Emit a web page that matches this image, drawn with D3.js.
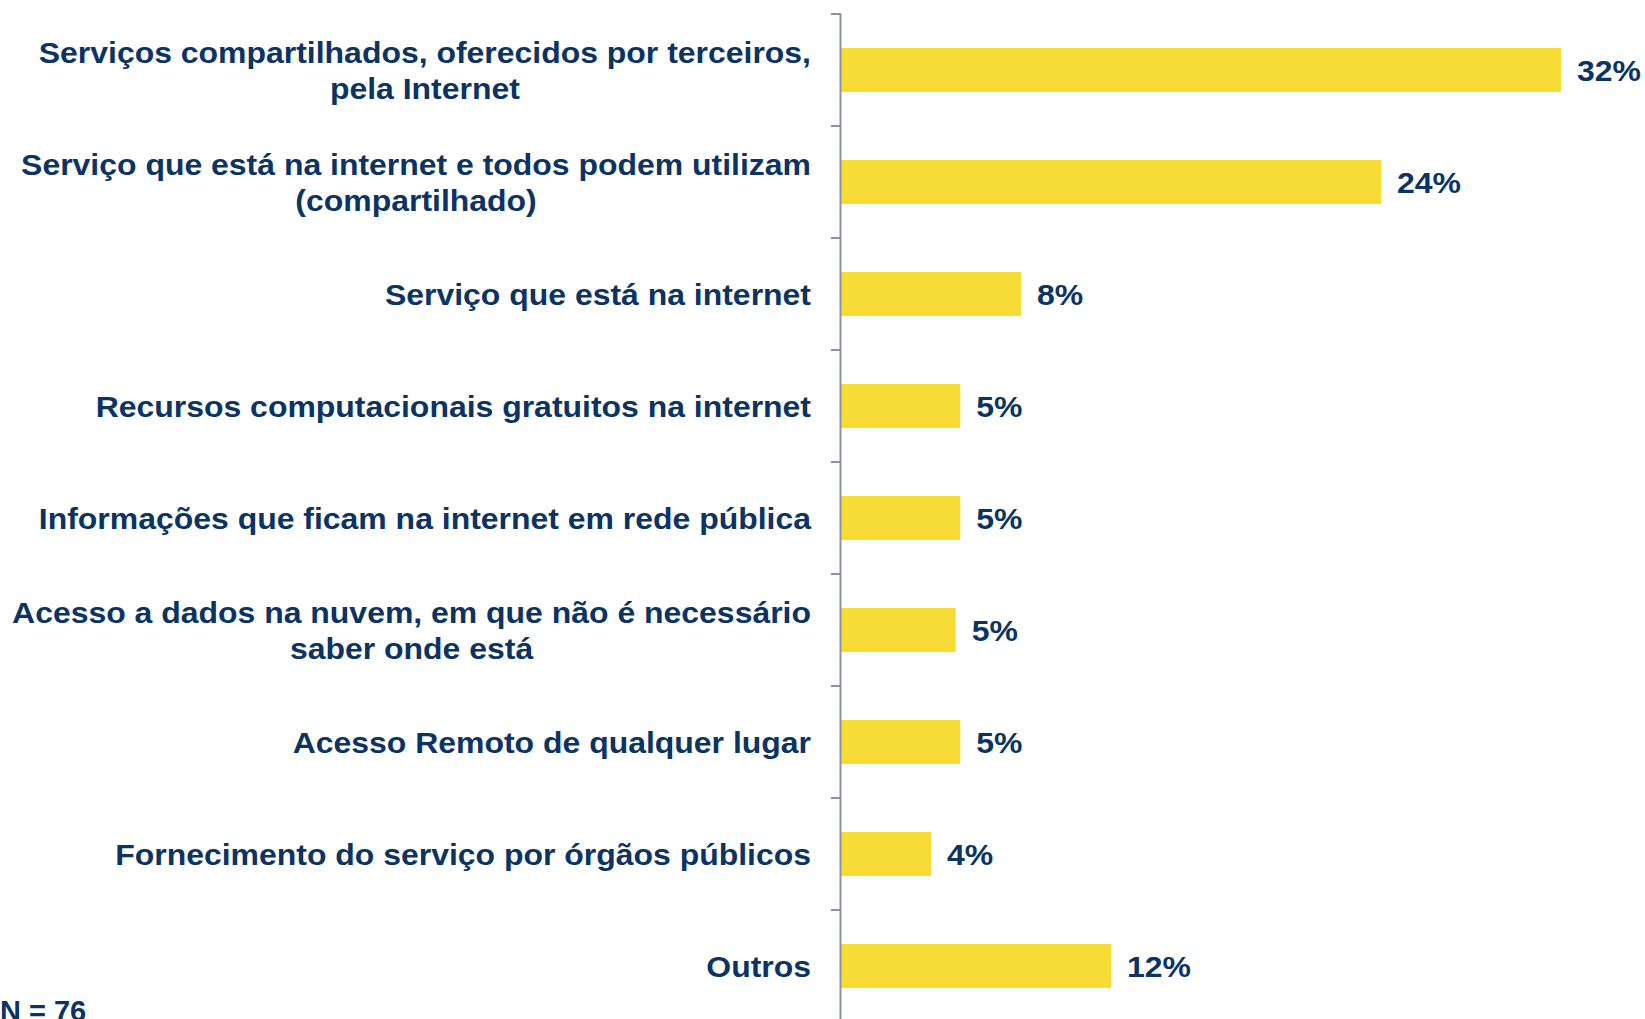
<!DOCTYPE html>
<html>
<head>
<meta charset="utf-8">
<script src="https://cdn.jsdelivr.net/npm/d3@7"></script>
<style>
  body { margin: 0; background: #fff; }
  svg { display: block; }
  .lbl, .val, .note { font-family: "Liberation Sans", Arial, sans-serif; font-weight: bold; fill: #0b3364; }
</style>
</head>
<body>
<div id="chart"></div>
<script>
var categories = [
  ["Serviços compartilhados, oferecidos por terceiros,", "pela Internet"],
  ["Serviço que está na internet e todos podem utilizam", "(compartilhado)"],
  ["Serviço que está na internet"],
  ["Recursos computacionais gratuitos na internet"],
  ["Informações que ficam na internet em rede pública"],
  ["Acesso a dados na nuvem, em que não é necessário", "saber onde está"],
  ["Acesso Remoto de qualquer lugar"],
  ["Fornecimento do serviço por órgãos públicos"],
  ["Outros"]
];
var values = [32, 24, 8, 5.3, 5.3, 5.1, 5.3, 4, 12];
var sampleNote = "N = 76";

var width = 1645, height = 1019;
var axisX = 841;
var stretch = 1.065; // reference text is a bit wider than Arial

var svg = d3.select("#chart").append("svg")
    .attr("width", width)
    .attr("height", height);

var keys = categories.map(function(d, i) { return i; });

var x = d3.scaleLinear()
    .domain([0, 32])
    .range([0, 720]);

var y = d3.scaleBand()
    .domain(keys)
    .range([14, 1022])
    .paddingInner(0.607)
    .paddingOuter(0.3035);

var gap = (y.step() - y.bandwidth()) / 2;

// bars
svg.selectAll(".bar")
    .data(values)
  .enter().append("rect")
    .attr("class", "bar")
    .attr("x", axisX)
    .attr("y", function(d, i) { return y(i); })
    .attr("width", function(d) { return x(d); })
    .attr("height", y.bandwidth())
    .style("fill", "#f7dc35");

// value labels
svg.selectAll(".val")
    .data(values)
  .enter().append("text")
    .attr("class", "val")
    .attr("transform", function(d, i) {
      return "translate(" + (axisX + x(d) + 16) + "," + (y(i) + y.bandwidth() / 2) + ") scale(" + stretch + ",1)";
    })
    .attr("dy", "0.36em")
    .style("font-size", "30px")
    .text(function(d) { return Math.round(d) + "%"; });

// category labels, lines centred on each other, block right-aligned to 811
var lbl = svg.selectAll(".lbl")
    .data(categories)
  .enter().append("text")
    .attr("class", "lbl")
    .attr("text-anchor", "middle")
    .style("font-size", "30px")
    .attr("transform", function(d, i) {
      return "translate(811," + (y(i) + y.bandwidth() / 2) + ") scale(" + stretch + ",1)";
    });

lbl.selectAll("tspan")
    .data(function(d) { return d; })
  .enter().append("tspan")
    .attr("y", function(d, j, nodes) { return (j - (nodes.length - 1) / 2) * 36; })
    .attr("dy", "0.36em")
    .text(function(d) { return d; });

lbl.each(function() {
  var spans = d3.select(this).selectAll("tspan");
  var maxW = d3.max(spans.nodes(), function(n) { return n.getComputedTextLength(); });
  spans.attr("x", -maxW / 2);
});

// axis line and ticks at band edges
var axis = svg.append("g").attr("class", "y axis");
axis.append("line")
    .attr("x1", axisX - 0.5).attr("x2", axisX - 0.5)
    .attr("y1", y.range()[0]).attr("y2", y.range()[1])
    .style("stroke", "#8c90a3").style("stroke-width", 2);

var tickPos = keys.map(function(k) { return y(k) - gap; }).concat([y.range()[1]]);
axis.selectAll(".tick")
    .data(tickPos)
  .enter().append("line")
    .attr("class", "tick")
    .attr("x1", axisX - 10).attr("x2", axisX)
    .attr("y1", function(d) { return d; }).attr("y2", function(d) { return d; })
    .style("stroke", "#8c90a3").style("stroke-width", 2);

svg.append("text")
    .attr("class", "note")
    .attr("x", 0)
    .attr("y", 1021)
    .style("font-size", "29px")
    .text(sampleNote);
</script>
</body>
</html>
